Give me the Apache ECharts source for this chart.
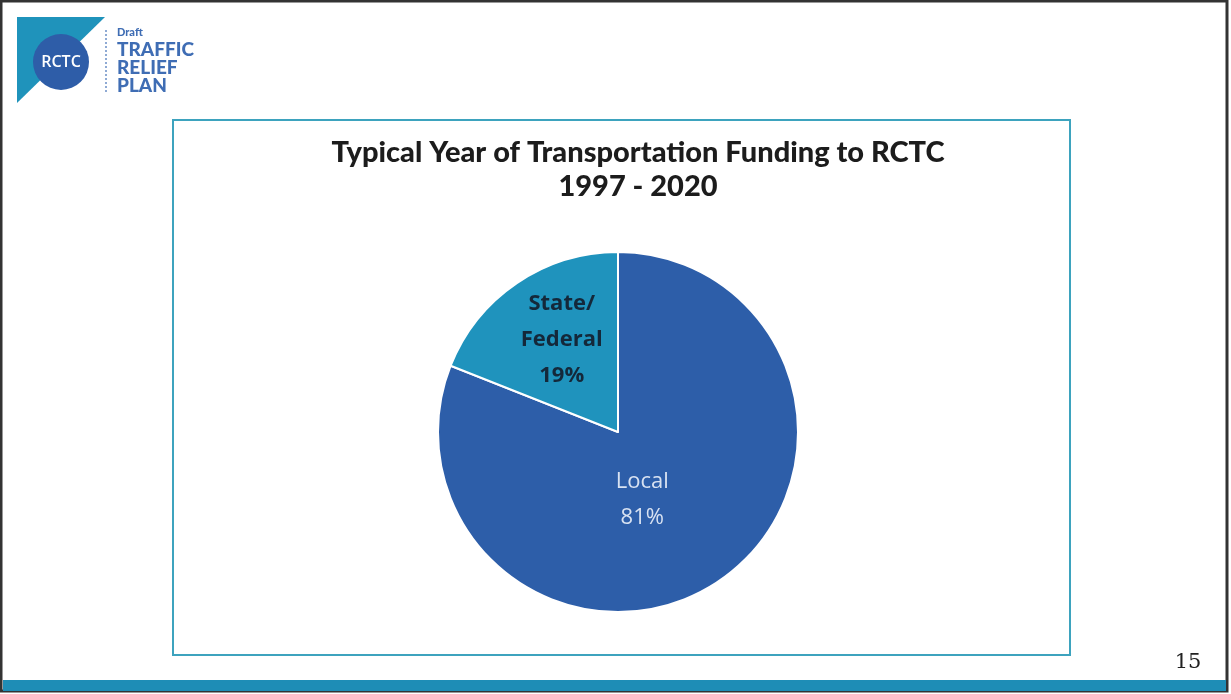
<!DOCTYPE html>
<html>
<head>
<meta charset="utf-8">
<script src="https://cdn.jsdelivr.net/npm/echarts@6/dist/echarts.min.js"></script>
<style>
  html, body { margin: 0; padding: 0; background: #fff; }
  #chart { width: 1231px; height: 694px; }
</style>
</head>
<body>
<div id="chart"></div>
<script>
// chart data
const categories = ["Local", "State/\nFederal"];
const shares = [81, 19];
const sliceColors = ["#2D5EA9", "#1F93BD"];
const titleLines = ["Typical Year of Transportation Funding to RCTC", "1997 - 2020"];

const chart = echarts.init(document.getElementById("chart"));

const option = {
  animation: false,
  backgroundColor: "#fff",
  title: {
    text: titleLines.join("\n"),
    left: 633,
    top: 131,
    textAlign: "center",
    textStyle: {
      fontFamily: "Lato",
      fontWeight: "900",
      fontSize: 29,
      lineHeight: 34,
      color: "#1c1c1c",
    },
  },
  graphic: [
    // slide frame
    { type: "rect", shape: { x: 1, y: 1, width: 1226, height: 690 }, style: { fill: "none", stroke: "#333", lineWidth: 3 } },
    // bottom band
    { type: "rect", shape: { x: 3, y: 680, width: 1223, height: 11 }, style: { fill: "#1E8DB6" } },
    // chart box
    { type: "rect", shape: { x: 173, y: 120, width: 897, height: 535 }, style: { fill: "none", stroke: "#3DA3BE", lineWidth: 2 } },
    // logo
    { type: "polygon", shape: { points: [[17, 17], [105, 17], [17, 103]] }, style: { fill: "#1F93BB" } },
    { type: "circle", shape: { cx: 61, cy: 62, r: 28 }, style: { fill: "#2E5DA8" } },
    { type: "text", style: { x: 61, y: 62, text: "RCTC", fill: "#fff", font: "600 16px 'Open Sans'", align: "center", verticalAlign: "middle" } },
    { type: "line", shape: { x1: 106, y1: 30, x2: 106, y2: 93 }, style: { stroke: "#6B8FC6", lineWidth: 1.5, lineDash: [2, 2] } },
    { type: "text", style: { x: 117, y: 27, text: "Draft", fill: "#3F6DB4", font: "900 11px Lato" } },
    { type: "text", style: { x: 117, y: 40, text: "TRAFFIC", fill: "#3F6DB4", font: "900 19px Lato" } },
    { type: "text", style: { x: 117, y: 58, text: "RELIEF", fill: "#3F6DB4", font: "900 19px Lato" } },
    { type: "text", style: { x: 117, y: 76, text: "PLAN", fill: "#3F6DB4", font: "900 19px Lato" } },
    // page number
    { type: "text", style: { x: 1188, y: 663, text: "15", fill: "#222", font: "21px 'DejaVu Serif'", align: "center", verticalAlign: "middle" } },
  ],
  series: [
    {
      type: "pie",
      center: [618, 432],
      radius: [0, 180],
      startAngle: 90,
      clockwise: true,
      itemStyle: { borderColor: "#fff", borderWidth: 2 },
      label: {
        show: true,
        position: "inside",
        fontFamily: "Open Sans",
        fontSize: 22,
        lineHeight: 36,
        formatter: function (p) {
          return p.name + "\n" + p.value + "%";
        },
      },
      labelLine: { show: false },
      data: categories.map(function (name, i) {
        return {
          name: name,
          value: shares[i],
          itemStyle: { color: sliceColors[i] },
          label: i === 0
            ? { color: "#D8E2F2", fontWeight: "normal", offset: [-28, -9] }
            : { color: "#14283A", fontWeight: "bold", offset: [-4, -15] },
        };
      }),
    },
  ],
};

chart.setOption(option);
window.onresize = function () {
  chart.resize();
};
</script>
</body>
</html>
